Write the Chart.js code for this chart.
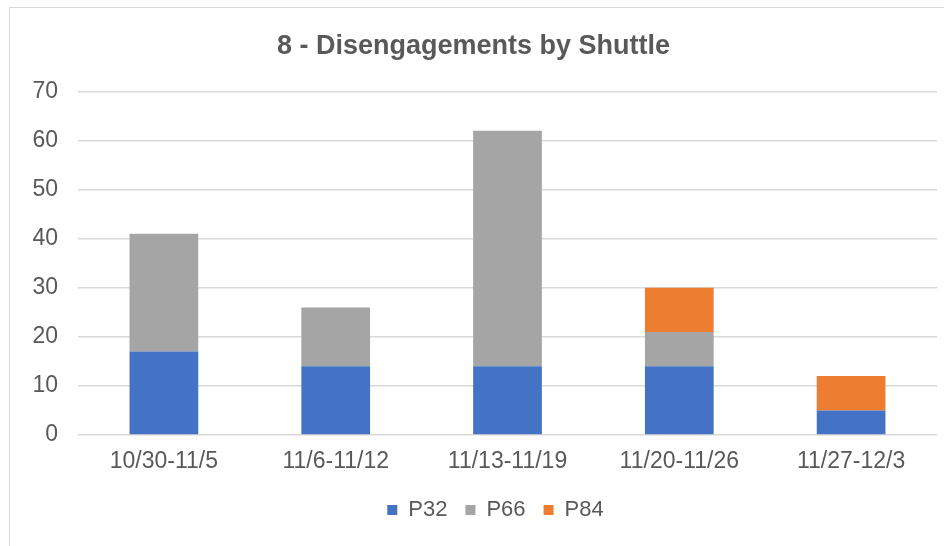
<!DOCTYPE html>
<html>
<head>
<meta charset="utf-8">
<script src="https://cdn.jsdelivr.net/npm/chart.js@4"></script>
<style>
  html, body { margin: 0; padding: 0; background: #fff; overflow: hidden; }
  #box { position: absolute; left: 9px; top: 7px; width: 940px; height: 545px;
         border: 1px solid #d9d9d9; box-sizing: border-box; background: #fff; }
</style>
</head>
<body>
<div id="box"><canvas id="myChart"></canvas></div>
<script>
const weeks = ['10/30-11/5', '11/6-11/12', '11/13-11/19', '11/20-11/26', '11/27-12/3'];
const p32 = [17, 14, 14, 14, 5];
const p66 = [24, 12, 48, 7, 0];
const p84 = [0, 0, 0, 9, 7];
const yTicks = [0, 10, 20, 30, 40, 50, 60, 70];

const ctx = document.getElementById('myChart');
const font = "'Liberation Sans', Arial, sans-serif";
const grey = '#595959';

// nudge the legend a little to the right of centre
const legendShift = {
    id: 'legendShift',
    afterLayout(chart) {
        if (chart.legend) {
            chart.legend.left += 22;
            chart.legend.right += 22;
        }
    }
};

new Chart(ctx, {
    type: 'bar',
    data: {
        labels: weeks,
        datasets: [
            { label: 'P32', data: p32, backgroundColor: '#4472c4' },
            { label: 'P66', data: p66, backgroundColor: '#a5a5a5' },
            { label: 'P84', data: p84, backgroundColor: '#ed7d31' }
        ]
    },
    plugins: [legendShift],
    options: {
        responsive: true,
        maintainAspectRatio: false,
        animation: false,
        layout: { padding: { left: 0, right: 11, top: 0, bottom: 20 } },
        datasets: { bar: { categoryPercentage: 1, barPercentage: 0.4 } },
        plugins: {
            title: {
                display: true,
                text: '8 - Disengagements by Shuttle',
                color: grey,
                font: { family: font, size: 27, weight: 'bold' },
                padding: { top: 22, bottom: 29 }
            },
            legend: {
                position: 'bottom',
                labels: {
                    color: grey,
                    font: { family: font, size: 22 },
                    boxWidth: 10,
                    boxHeight: 10,
                    padding: 18
                }
            },
            tooltip: { enabled: false }
        },
        scales: {
            x: {
                stacked: true,
                grid: { display: false, drawTicks: false },
                border: { display: false },
                ticks: { color: grey, font: { family: font, size: 23 }, padding: 13 },
                afterFit: axis => { axis.height = 46; }
            },
            y: {
                stacked: true,
                min: 0,
                max: 70,
                afterBuildTicks: axis => { axis.ticks = yTicks.map(v => ({ value: v })); },
                afterFit: axis => { axis.width = 68; },
                grid: { color: '#d9d9d9', lineWidth: 1.5, drawTicks: false },
                border: { display: false },
                ticks: { color: grey, font: { family: font, size: 23 }, padding: 20 }
            }
        }
    }
});
</script>
</body>
</html>
